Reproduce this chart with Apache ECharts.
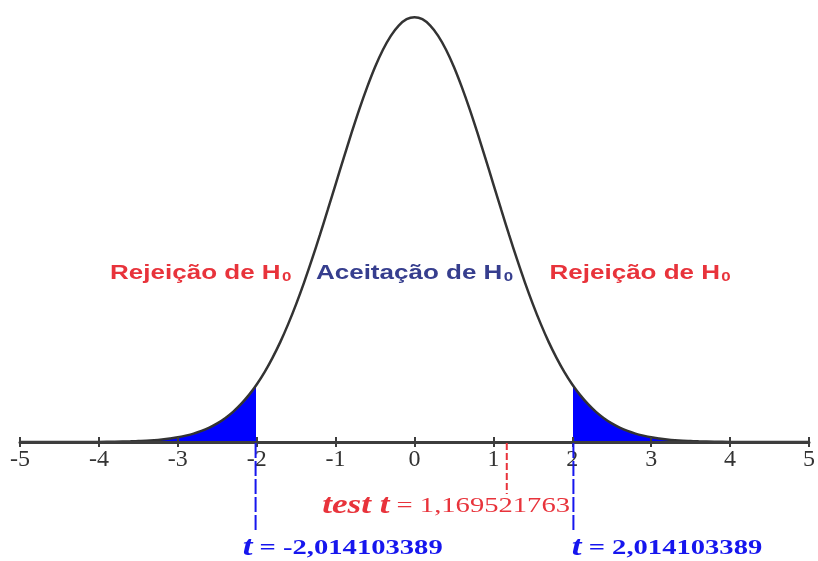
<!DOCTYPE html>
<html>
<head>
<meta charset="utf-8">
<script src="https://cdn.jsdelivr.net/npm/echarts@6/dist/echarts.min.js"></script>
<style>
  html, body { margin: 0; padding: 0; background: #ffffff; }
  #chart { width: 818px; height: 561px; }
</style>
</head>
<body>
<div id="chart"></div>
<script>
// Density curve of the test statistic (finer sampling where it bends)
const tValues = [-5, -4.5, -4, -3.8, -3.6,
  -3.5, -3.4, -3.3, -3.2, -3.1, -3.0, -2.9, -2.8, -2.7, -2.6,
  -2.5, -2.4, -2.3, -2.2, -2.1, -2.0, -1.9, -1.8, -1.7, -1.6,
  -1.5, -1.4, -1.3, -1.2, -1.1, -1.0, -0.9, -0.8, -0.7, -0.6,
  -0.5, -0.4, -0.3, -0.2, -0.1,
  0,
  0.1, 0.2, 0.3, 0.4, 0.5,
  0.6, 0.7, 0.8, 0.9, 1.0, 1.1, 1.2, 1.3, 1.4, 1.5,
  1.6, 1.7, 1.8, 1.9, 2.0, 2.1, 2.2, 2.3, 2.4, 2.5,
  2.6, 2.7, 2.8, 2.9, 3.0, 3.1, 3.2, 3.3, 3.4, 3.5,
  3.6, 3.8, 4, 4.5, 5];
const density = [0, 0, 0.0001, 0.0003, 0.0006,
  0.0009, 0.0012, 0.0017, 0.0024, 0.0033, 0.0044, 0.0060, 0.0079, 0.0104, 0.0136,
  0.0175, 0.0224, 0.0283, 0.0355, 0.0440, 0.0540, 0.0656, 0.0790, 0.0940, 0.1109,
  0.1295, 0.1497, 0.1714, 0.1942, 0.2179, 0.2420, 0.2661, 0.2897, 0.3123, 0.3332,
  0.3521, 0.3683, 0.3814, 0.3910, 0.3970,
  0.3989,
  0.3970, 0.3910, 0.3814, 0.3683, 0.3521,
  0.3332, 0.3123, 0.2897, 0.2661, 0.2420, 0.2179, 0.1942, 0.1714, 0.1497, 0.1295,
  0.1109, 0.0940, 0.0790, 0.0656, 0.0540, 0.0440, 0.0355, 0.0283, 0.0224, 0.0175,
  0.0136, 0.0104, 0.0079, 0.0060, 0.0044, 0.0033, 0.0024, 0.0017, 0.0012, 0.0009,
  0.0006, 0.0003, 0.0001, 0, 0];

const tickValues = [-5, -4, -3, -2, -1, 0, 1, 2, 3, 4, 5];

// Critical value of the two-tailed test and the observed statistic
const criticalT = 2.014103389;
const testT = 1.169521763;

const regionNames = ['Rejeição de H', 'Aceitação de H', 'Rejeição de H'];
const regionKinds = ['reject', 'accept', 'reject'];

// ---- layout (data units) ----
const regionAnchorX = [-2.71, 0, 2.86];
const regionAnchorY = 0.158;
const guideEnd = { critical: -0.0854, test: -0.0488 };
const valueLabelAnchors = [
  { x: -0.91, y: -0.0995 },   // left critical value
  { x: 0.40, y: -0.0605 },    // test statistic
  { x: 3.20, y: -0.0995 }     // right critical value
];

const RED = '#e8333b';
const NAVY = '#363e8e';
const BLUE = '#1616ee';
const FILL = '#0000ff';
const STRETCH = 1.3;

const fmt = v => String(v).replace('.', ',');

const curve = tValues.map((t, i) => [t, density[i]]);
const guideValues = [-criticalT, testT, criticalT];

const chart = echarts.init(document.getElementById('chart'), null, { renderer: 'canvas' });

function renderGuide(params, api) {
  const v = guideValues[params.dataIndex];
  const isTest = v === testT;
  const p0 = api.coord([v, 0]);
  const p1 = api.coord([v, isTest ? guideEnd.test : guideEnd.critical]);
  return {
    type: 'line',
    shape: { x1: p0[0], y1: p0[1] + 1, x2: p1[0], y2: p1[1] },
    style: {
      stroke: isTest ? RED : BLUE,
      lineWidth: 2,
      lineDash: isTest ? [7, 3] : [15, 3]
    }
  };
}

function renderRegionLabel(params, api) {
  const i = params.dataIndex;
  const p = api.coord([regionAnchorX[i], regionAnchorY]);
  const color = regionKinds[i] === 'reject' ? RED : NAVY;
  return {
    type: 'text',
    x: p[0], y: p[1],
    scaleX: STRETCH,
    style: {
      text: '{m|' + regionNames[i] + '}{s|0}',
      align: 'center',
      verticalAlign: 'middle',
      rich: {
        m: { fontFamily: 'Liberation Sans', fontSize: 20, fontWeight: 'bold', fill: color },
        s: { fontFamily: 'Liberation Sans', fontSize: 13, fontWeight: 'bold', fill: color, verticalAlign: 'bottom', padding: [0, 0, 0, 1] }
      }
    }
  };
}

function renderValueLabel(params, api) {
  const i = params.dataIndex;
  const v = guideValues[i];
  const isTest = v === testT;
  const a = valueLabelAnchors[i];
  const p = api.coord([a.x, a.y]);
  const color = isTest ? RED : BLUE;
  const text = isTest
    ? '{v|test t}{n| = ' + fmt(v) + '}'
    : '{v|t}{n| = ' + fmt(v) + '}';
  return {
    type: 'text',
    x: p[0], y: p[1],
    scaleX: STRETCH,
    style: {
      text: text,
      align: 'center',
      verticalAlign: 'middle',
      rich: {
        v: { fontFamily: 'Liberation Serif', fontSize: 27, fontWeight: 'bold', fontStyle: 'italic', fill: color },
        n: {
          fontFamily: 'Liberation Serif',
          fontSize: 22,
          fontWeight: isTest ? 'normal' : 'bold',
          fill: color
        }
      }
    }
  };
}

chart.setOption({
  animation: false,
  backgroundColor: '#ffffff',
  grid: { left: 20, right: 6, top: 16, bottom: 119, containLabel: false },
  xAxis: [
    {
      type: 'value', min: -5, max: 5, interval: 1, z: 5,
      axisLine: { show: true, onZero: true, lineStyle: { color: '#3d3d3d', width: 3 } },
      axisTick: { show: true, inside: false, length: 5, lineStyle: { color: '#3d3d3d', width: 2 } },
      axisLabel: {
        show: true, margin: 6,
        fontFamily: 'Liberation Serif', fontSize: 24, color: '#333333',
        formatter: v => tickValues.includes(v) ? String(v) : ''
      },
      splitLine: { show: false }
    },
    {
      type: 'value', min: -5, max: 5, interval: 1, position: 'bottom', z: 5,
      axisLine: { show: false },
      axisTick: { show: true, inside: true, length: 5, lineStyle: { color: '#3d3d3d', width: 2 } },
      axisLabel: { show: false },
      splitLine: { show: false }
    }
  ],
  yAxis: { type: 'value', min: 0, max: 0.4, show: false, splitLine: { show: false } },
  visualMap: {
    type: 'piecewise', show: false, dimension: 0, seriesIndex: 0,
    pieces: [
      { lt: -criticalT, color: FILL },
      { gte: -criticalT, lte: criticalT, color: 'rgba(0,0,255,0)' },
      { gt: criticalT, color: FILL }
    ]
  },
  series: [
    {
      // rejection-region shading
      type: 'line', data: curve, smooth: 0.3, showSymbol: false, silent: true,
      lineStyle: { width: 0 },
      areaStyle: { opacity: 1 },
      z: 2
    },
    {
      type: 'line', data: curve, smooth: 0.3, showSymbol: false, silent: true,
      lineStyle: { color: '#333333', width: 2.5 },
      z: 3
    },
    {
      type: 'custom', data: guideValues.map(v => [v, 0]), renderItem: renderGuide,
      clip: false, silent: true, z: 6
    },
    {
      type: 'custom', data: regionAnchorX.map(x => [x, regionAnchorY]), renderItem: renderRegionLabel,
      clip: false, silent: true, z: 6
    },
    {
      type: 'custom', data: valueLabelAnchors.map(a => [a.x, a.y]), renderItem: renderValueLabel,
      clip: false, silent: true, z: 6
    }
  ]
});
</script>
</body>
</html>
